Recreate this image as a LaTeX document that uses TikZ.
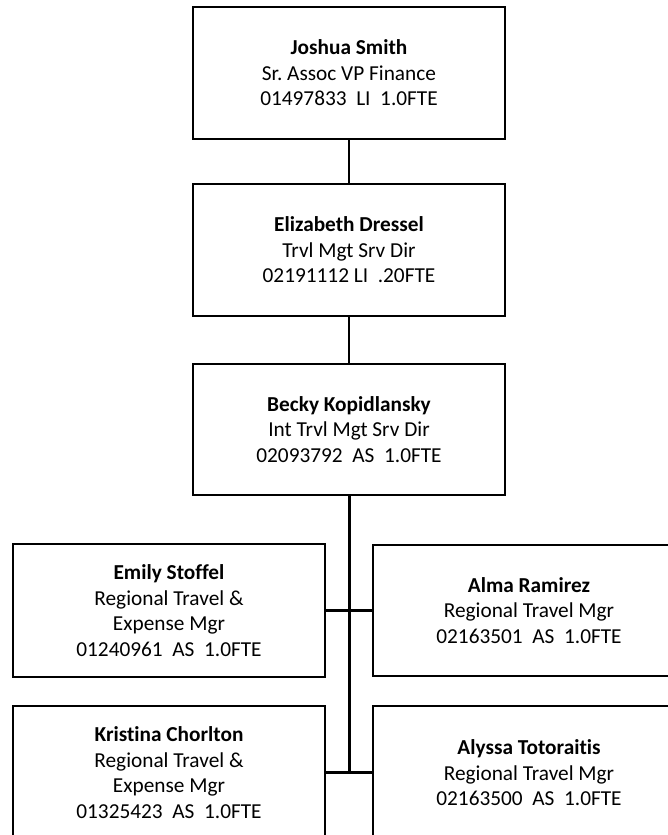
\documentclass[tikz,border=0pt]{standalone}
\usepackage{fontspec}
\setmainfont{Carlito}[Ligatures=NoCommon]
\frenchspacing
\begin{document}
\begin{tikzpicture}[x=1bp,y=-1bp,
  person/.style={draw=black, line width=1.7bp, fill=white, align=center, inner sep=0pt,
    minimum width=312bp, minimum height=132bp,
    font=\fontsize{21.3bp}{25.5bp}\selectfont},
  link/.style={line width=2.3bp},
  trunk/.style={line width=3bp}]
\useasboundingbox (0,0) rectangle (668,835);
\clip (0,0) rectangle (668,835);
\node[person] (js) at (349,73) {\textbf{Joshua Smith}\\Sr.\ Assoc VP Finance\\01497833\ \ LI\ \ 1.0FTE};
\node[person] (ed) at (349,250) {\textbf{Elizabeth Dressel}\\Trvl Mgt Srv Dir\\02191112 LI\ \ .20FTE};
\node[person, minimum height=131bp] (bk) at (349,429.5) {\textbf{Becky Kopidlansky}\\Int Trvl Mgt Srv Dir\\02093792\ \ AS\ \ 1.0FTE};
\node[person, minimum height=133bp] (es) at (169,610.5) {\textbf{Emily Stoffel}\\Regional Travel \&\\Expense Mgr\\01240961\ \ AS\ \ 1.0FTE};
\node[person, minimum height=131bp] (ar) at (529,610.5) {\textbf{Alma Ramirez}\\Regional Travel Mgr\\02163501\ \ AS\ \ 1.0FTE};
\node[person, minimum height=133bp] (kc) at (169,772.5) {\textbf{Kristina Chorlton}\\Regional Travel \&\\Expense Mgr\\01325423\ \ AS\ \ 1.0FTE};
\node[person, minimum height=134bp] (at) at (529,773) {\textbf{Alyssa Totoraitis}\\Regional Travel Mgr\\02163500\ \ AS\ \ 1.0FTE};
\coordinate (end) at (349,772.5);
\draw[link] (js.south) -- (ed.north);
\draw[link] (ed.south) -- (bk.north);
\draw[trunk] (bk.south) -- (end);
\draw[link] (es.east) -- (ar.west);
\draw[link] (kc.east) -- (kc.east -| at.west);
\end{tikzpicture}
\end{document}
